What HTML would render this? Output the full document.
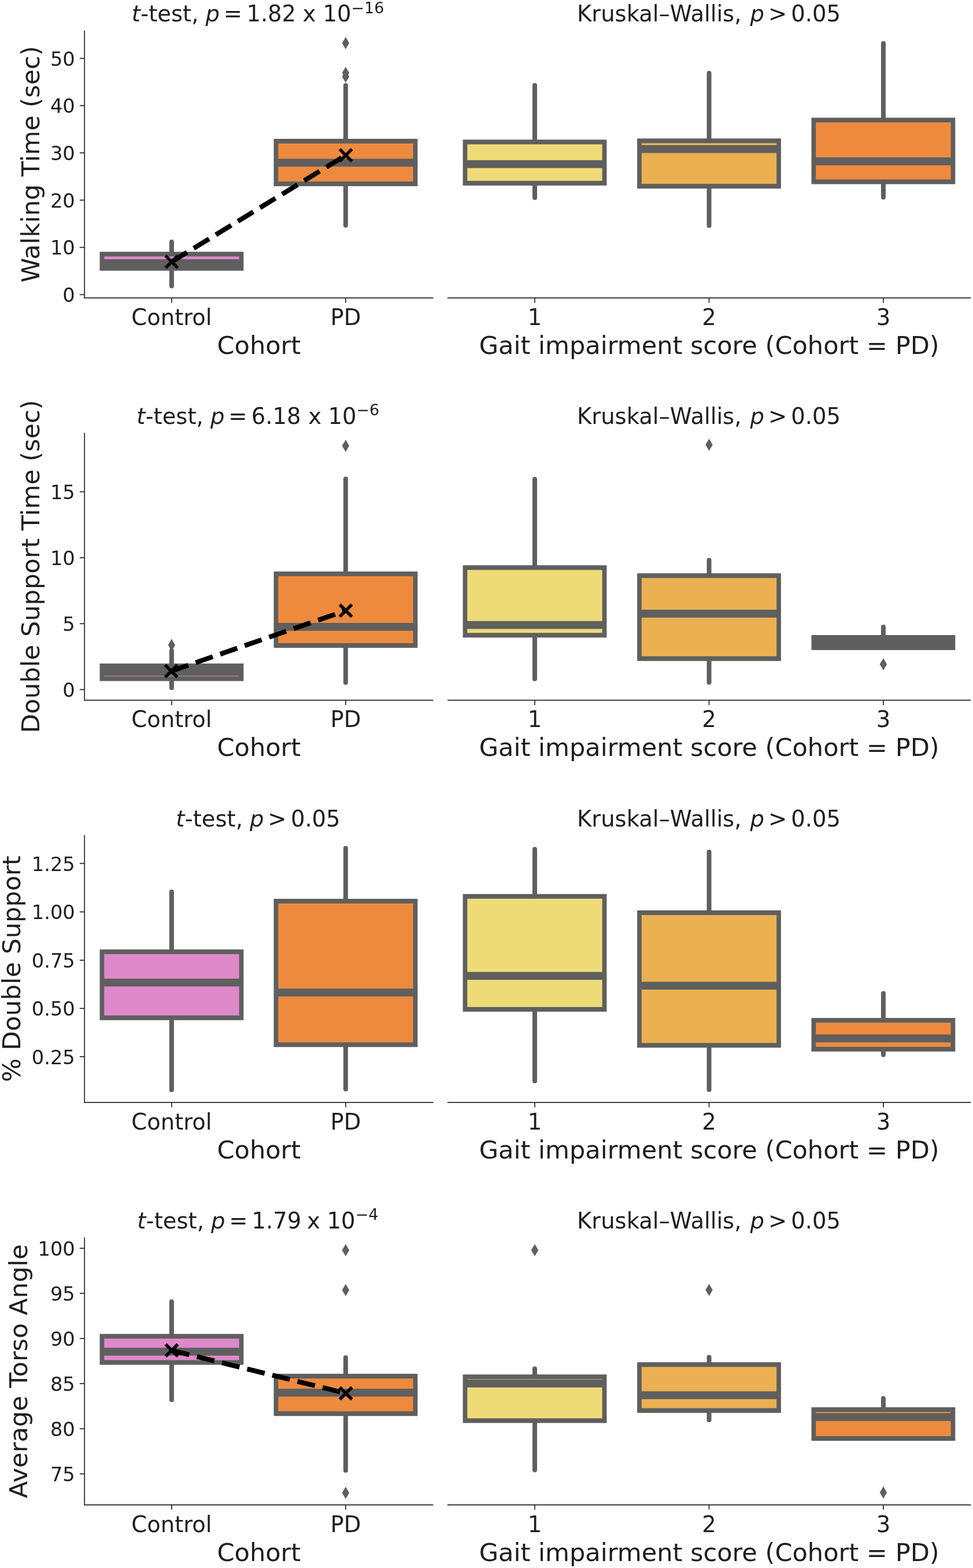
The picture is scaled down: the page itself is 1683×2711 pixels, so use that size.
<!DOCTYPE html>
<html><head><meta charset="utf-8"><title>Boxplots</title><style>
html,body{margin:0;padding:0;background:#fff;}
svg{display:block;}
text{font-family:'DejaVu Sans', 'Liberation Sans', sans-serif;fill:#1e1e1e;}
.yt{font-size:33.7px;text-anchor:end;}
.xt{font-size:38.5px;text-anchor:middle;}
.xl{font-size:43.1px;text-anchor:middle;}
.yl{font-size:43.1px;text-anchor:middle;}
.ti{font-size:38.5px;text-anchor:middle;}
.tl{text-anchor:start;}
.it{font-style:italic;}
.sup{font-size:26.95px;}
.sp{stroke:#262626;stroke-width:1.7;}
.tk{stroke:#262626;stroke-width:1.7;}
.wh{stroke:#5e5f5e;stroke-width:8.0;stroke-linecap:round;}
.xm{stroke:#000;stroke-width:5.5;fill:none;}
.dash{stroke:#000;stroke-width:8.3;stroke-dasharray:31.2 13.6;}
</style></head>
<body><svg width="1683" height="2711" viewBox="0 0 1683 2711">
<rect width="1683" height="2711" fill="#fff"/>
<line x1="146.2" y1="52.8" x2="146.2" y2="515.2" class="sp"/>
<line x1="145.2" y1="515.2" x2="749.5" y2="515.2" class="sp"/>
<line x1="137.9" y1="509.4" x2="146.2" y2="509.4" class="tk"/>
<text x="129.8" y="522.1" class="yt">0</text>
<line x1="137.9" y1="427.7" x2="146.2" y2="427.7" class="tk"/>
<text x="129.8" y="440.4" class="yt">10</text>
<line x1="137.9" y1="346" x2="146.2" y2="346" class="tk"/>
<text x="129.8" y="358.7" class="yt">20</text>
<line x1="137.9" y1="264.3" x2="146.2" y2="264.3" class="tk"/>
<text x="129.8" y="277" class="yt">30</text>
<line x1="137.9" y1="182.6" x2="146.2" y2="182.6" class="tk"/>
<text x="129.8" y="195.3" class="yt">40</text>
<line x1="137.9" y1="100.9" x2="146.2" y2="100.9" class="tk"/>
<text x="129.8" y="113.6" class="yt">50</text>
<line x1="296.9" y1="515.2" x2="296.9" y2="523.5" class="tk"/>
<text x="296.9" y="561.8" class="xt">Control</text>
<line x1="597.9" y1="515.2" x2="597.9" y2="523.5" class="tk"/>
<text x="597.9" y="561.8" class="xt">PD</text>
<text x="447.85" y="611.9" class="xl">Cohort</text>
<text x="67.9" y="284" class="yl" transform="rotate(-90 67.9 284)">Walking Time (sec)</text>
<text y="37.3" class="ti tl"><tspan x="227.84" class="it">t</tspan><tspan x="243.3">-test,</tspan><tspan x="355.5" class="it">p</tspan><tspan x="386.8">=</tspan><tspan x="426.4">1.82</tspan><tspan x="523.5">x</tspan><tspan x="558.5">10</tspan><tspan x="607.5" dy="-14.6" class="sup">−16</tspan></text>
<rect x="172.5" y="435.3" width="248.8" height="32.7" fill="#5e5f5e"/>
<rect x="180.2" y="443.4" width="233.4" height="16.5" fill="#df89cb"/>
<line x1="296.9" y1="438.85" x2="296.9" y2="418.2" class="wh"/>
<line x1="296.9" y1="464.45" x2="296.9" y2="494.4" class="wh"/>
<rect x="173.5" y="448.2" width="246.8" height="13.6" fill="#5e5f5e"/>
<rect x="473.5" y="240" width="248.8" height="81.9" fill="#5e5f5e"/>
<rect x="481.2" y="248.1" width="233.4" height="65.7" fill="#ee8a3e"/>
<line x1="597.9" y1="243.55" x2="597.9" y2="147.7" class="wh"/>
<line x1="597.9" y1="318.35" x2="597.9" y2="389.6" class="wh"/>
<rect x="474.5" y="274.5" width="246.8" height="13.6" fill="#5e5f5e"/>
<path d="M597.9 64l6.2 10.5l-6.2 10.5l-6.2 -10.5z" fill="#5e5f5e"/>
<path d="M597.9 115.5l6.2 10.5l-6.2 10.5l-6.2 -10.5z" fill="#5e5f5e"/>
<path d="M597.9 122.1l6.2 10.5l-6.2 10.5l-6.2 -10.5z" fill="#5e5f5e"/>
<line x1="296.9" y1="452.6" x2="598.1" y2="268.4" class="dash"/>
<path d="M286.4 442.1L307.4 463.1M286.4 463.1L307.4 442.1" class="xm"/>
<path d="M587.6 257.9L608.6 278.9M587.6 278.9L608.6 257.9" class="xm"/>
<line x1="773.9" y1="515.2" x2="1679.4" y2="515.2" class="sp"/>
<line x1="925" y1="515.2" x2="925" y2="523.5" class="tk"/>
<text x="925" y="561.8" class="xt">1</text>
<line x1="1226.5" y1="515.2" x2="1226.5" y2="523.5" class="tk"/>
<text x="1226.5" y="561.8" class="xt">2</text>
<line x1="1527.9" y1="515.2" x2="1527.9" y2="523.5" class="tk"/>
<text x="1527.9" y="561.8" class="xt">3</text>
<text x="1226.65" y="611.9" class="xl">Gait impairment score (Cohort = PD)</text>
<text y="37.3" class="ti tl"><tspan x="998.1">Kruskal–Wallis,</tspan><tspan x="1297.6" class="it">p</tspan><tspan x="1328.9">&gt;</tspan><tspan x="1368.3">0.05</tspan></text>
<rect x="800.6" y="241.4" width="248.8" height="79.4" fill="#5e5f5e"/>
<rect x="808.3" y="249.5" width="233.4" height="63.2" fill="#eedb78"/>
<line x1="925" y1="244.95" x2="925" y2="147.4" class="wh"/>
<line x1="925" y1="317.25" x2="925" y2="341.7" class="wh"/>
<rect x="801.6" y="276.9" width="246.8" height="13.6" fill="#5e5f5e"/>
<rect x="1102.1" y="239.4" width="248.8" height="86.6" fill="#5e5f5e"/>
<rect x="1109.8" y="247.5" width="233.4" height="70.4" fill="#ebb052"/>
<line x1="1226.5" y1="242.95" x2="1226.5" y2="126.6" class="wh"/>
<line x1="1226.5" y1="322.45" x2="1226.5" y2="390.1" class="wh"/>
<rect x="1103.1" y="250.9" width="246.8" height="13.6" fill="#5e5f5e"/>
<rect x="1403.5" y="203.5" width="248.8" height="114.9" fill="#5e5f5e"/>
<rect x="1411.2" y="211.6" width="233.4" height="98.7" fill="#ee8a3e"/>
<line x1="1527.9" y1="207.05" x2="1527.9" y2="75.1" class="wh"/>
<line x1="1527.9" y1="314.85" x2="1527.9" y2="341" class="wh"/>
<rect x="1404.5" y="272.2" width="246.8" height="13.6" fill="#5e5f5e"/>
<line x1="146.2" y1="748.3" x2="146.2" y2="1210.7" class="sp"/>
<line x1="145.2" y1="1210.7" x2="749.5" y2="1210.7" class="sp"/>
<line x1="137.9" y1="1192.3" x2="146.2" y2="1192.3" class="tk"/>
<text x="129.8" y="1205" class="yt">0</text>
<line x1="137.9" y1="1078.3" x2="146.2" y2="1078.3" class="tk"/>
<text x="129.8" y="1091" class="yt">5</text>
<line x1="137.9" y1="964.3" x2="146.2" y2="964.3" class="tk"/>
<text x="129.8" y="977" class="yt">10</text>
<line x1="137.9" y1="850.3" x2="146.2" y2="850.3" class="tk"/>
<text x="129.8" y="863" class="yt">15</text>
<line x1="296.9" y1="1210.7" x2="296.9" y2="1219" class="tk"/>
<text x="296.9" y="1257.3" class="xt">Control</text>
<line x1="597.9" y1="1210.7" x2="597.9" y2="1219" class="tk"/>
<text x="597.9" y="1257.3" class="xt">PD</text>
<text x="447.85" y="1307.4" class="xl">Cohort</text>
<text x="67.9" y="979.5" class="yl" transform="rotate(-90 67.9 979.5)">Double Support Time (sec)</text>
<text y="732.8" class="ti tl"><tspan x="236.24" class="it">t</tspan><tspan x="251.7">-test,</tspan><tspan x="363.9" class="it">p</tspan><tspan x="395.2">=</tspan><tspan x="434.8">6.18</tspan><tspan x="533.3">x</tspan><tspan x="567.5">10</tspan><tspan x="616.5" dy="-14.6" class="sup">−6</tspan></text>
<rect x="172.5" y="1147.2" width="248.8" height="30.3" fill="#5e5f5e"/>
<rect x="180.2" y="1155.3" width="233.4" height="14.1" fill="#df89cb"/>
<line x1="296.9" y1="1150.75" x2="296.9" y2="1125.3" class="wh"/>
<line x1="296.9" y1="1173.95" x2="296.9" y2="1189.1" class="wh"/>
<rect x="173.5" y="1154.8" width="246.8" height="13.6" fill="#5e5f5e"/>
<path d="M296.9 1104.8l6.2 10.5l-6.2 10.5l-6.2 -10.5z" fill="#5e5f5e"/>
<rect x="473.5" y="988.1" width="248.8" height="132" fill="#5e5f5e"/>
<rect x="481.2" y="996.2" width="233.4" height="115.8" fill="#ee8a3e"/>
<line x1="597.9" y1="991.65" x2="597.9" y2="828.1" class="wh"/>
<line x1="597.9" y1="1116.55" x2="597.9" y2="1180.1" class="wh"/>
<rect x="474.5" y="1077" width="246.8" height="13.6" fill="#5e5f5e"/>
<path d="M597.9 760.3l6.2 10.5l-6.2 10.5l-6.2 -10.5z" fill="#5e5f5e"/>
<line x1="296.2" y1="1160.3" x2="598" y2="1055.7" class="dash"/>
<path d="M285.7 1149.8L306.7 1170.8M285.7 1170.8L306.7 1149.8" class="xm"/>
<path d="M587.5 1045.2L608.5 1066.2M587.5 1066.2L608.5 1045.2" class="xm"/>
<line x1="773.9" y1="1210.7" x2="1679.4" y2="1210.7" class="sp"/>
<line x1="925" y1="1210.7" x2="925" y2="1219" class="tk"/>
<text x="925" y="1257.3" class="xt">1</text>
<line x1="1226.5" y1="1210.7" x2="1226.5" y2="1219" class="tk"/>
<text x="1226.5" y="1257.3" class="xt">2</text>
<line x1="1527.9" y1="1210.7" x2="1527.9" y2="1219" class="tk"/>
<text x="1527.9" y="1257.3" class="xt">3</text>
<text x="1226.65" y="1307.4" class="xl">Gait impairment score (Cohort = PD)</text>
<text y="732.8" class="ti tl"><tspan x="998.1">Kruskal–Wallis,</tspan><tspan x="1297.6" class="it">p</tspan><tspan x="1328.9">&gt;</tspan><tspan x="1368.3">0.05</tspan></text>
<rect x="800.6" y="977.3" width="248.8" height="125" fill="#5e5f5e"/>
<rect x="808.3" y="985.4" width="233.4" height="108.8" fill="#eedb78"/>
<line x1="925" y1="980.85" x2="925" y2="828.5" class="wh"/>
<line x1="925" y1="1098.75" x2="925" y2="1173.8" class="wh"/>
<rect x="801.6" y="1073.8" width="246.8" height="13.6" fill="#5e5f5e"/>
<rect x="1102.1" y="991.2" width="248.8" height="151.6" fill="#5e5f5e"/>
<rect x="1109.8" y="999.3" width="233.4" height="135.4" fill="#ebb052"/>
<line x1="1226.5" y1="994.75" x2="1226.5" y2="968.6" class="wh"/>
<line x1="1226.5" y1="1139.25" x2="1226.5" y2="1179.8" class="wh"/>
<rect x="1103.1" y="1054.2" width="246.8" height="13.6" fill="#5e5f5e"/>
<path d="M1226.5 758.5l6.2 10.5l-6.2 10.5l-6.2 -10.5z" fill="#5e5f5e"/>
<rect x="1403.5" y="1098" width="248.8" height="25.9" fill="#5e5f5e"/>
<rect x="1411.2" y="1106.1" width="233.4" height="9.7" fill="#ee8a3e"/>
<line x1="1527.9" y1="1101.55" x2="1527.9" y2="1084" class="wh"/>
<rect x="1404.5" y="1104.2" width="246.8" height="13.6" fill="#5e5f5e"/>
<path d="M1527.9 1137.9l6.2 10.5l-6.2 10.5l-6.2 -10.5z" fill="#5e5f5e"/>
<line x1="146.2" y1="1443.8" x2="146.2" y2="1906.2" class="sp"/>
<line x1="145.2" y1="1906.2" x2="749.5" y2="1906.2" class="sp"/>
<line x1="137.9" y1="1827" x2="146.2" y2="1827" class="tk"/>
<text x="129.8" y="1839.7" class="yt">0.25</text>
<line x1="137.9" y1="1743.5" x2="146.2" y2="1743.5" class="tk"/>
<text x="129.8" y="1756.2" class="yt">0.50</text>
<line x1="137.9" y1="1660.2" x2="146.2" y2="1660.2" class="tk"/>
<text x="129.8" y="1672.9" class="yt">0.75</text>
<line x1="137.9" y1="1576.6" x2="146.2" y2="1576.6" class="tk"/>
<text x="129.8" y="1589.3" class="yt">1.00</text>
<line x1="137.9" y1="1492.8" x2="146.2" y2="1492.8" class="tk"/>
<text x="129.8" y="1505.5" class="yt">1.25</text>
<line x1="296.9" y1="1906.2" x2="296.9" y2="1914.5" class="tk"/>
<text x="296.9" y="1952.8" class="xt">Control</text>
<line x1="597.9" y1="1906.2" x2="597.9" y2="1914.5" class="tk"/>
<text x="597.9" y="1952.8" class="xt">PD</text>
<text x="447.85" y="2002.9" class="xl">Cohort</text>
<text x="35.4" y="1675" class="yl" transform="rotate(-90 35.4 1675)">% Double Support</text>
<text y="1429.3" class="ti tl"><tspan x="304.34" class="it">t</tspan><tspan x="319.8">-test,</tspan><tspan x="432" class="it">p</tspan><tspan x="463.3">&gt;</tspan><tspan x="502.9">0.05</tspan></text>
<rect x="172.5" y="1641.5" width="248.8" height="122.3" fill="#5e5f5e"/>
<rect x="180.2" y="1649.6" width="233.4" height="106.1" fill="#df89cb"/>
<line x1="296.9" y1="1645.05" x2="296.9" y2="1542.1" class="wh"/>
<line x1="296.9" y1="1760.25" x2="296.9" y2="1884.2" class="wh"/>
<rect x="173.5" y="1692" width="246.8" height="13.6" fill="#5e5f5e"/>
<rect x="473.5" y="1554" width="248.8" height="256.3" fill="#5e5f5e"/>
<rect x="481.2" y="1562.1" width="233.4" height="240.1" fill="#ee8a3e"/>
<line x1="597.9" y1="1557.55" x2="597.9" y2="1466.6" class="wh"/>
<line x1="597.9" y1="1806.75" x2="597.9" y2="1883" class="wh"/>
<rect x="474.5" y="1709.2" width="246.8" height="13.6" fill="#5e5f5e"/>
<line x1="773.9" y1="1906.2" x2="1679.4" y2="1906.2" class="sp"/>
<line x1="925" y1="1906.2" x2="925" y2="1914.5" class="tk"/>
<text x="925" y="1952.8" class="xt">1</text>
<line x1="1226.5" y1="1906.2" x2="1226.5" y2="1914.5" class="tk"/>
<text x="1226.5" y="1952.8" class="xt">2</text>
<line x1="1527.9" y1="1906.2" x2="1527.9" y2="1914.5" class="tk"/>
<text x="1527.9" y="1952.8" class="xt">3</text>
<text x="1226.65" y="2002.9" class="xl">Gait impairment score (Cohort = PD)</text>
<text y="1429.3" class="ti tl"><tspan x="998.1">Kruskal–Wallis,</tspan><tspan x="1297.6" class="it">p</tspan><tspan x="1328.9">&gt;</tspan><tspan x="1368.3">0.05</tspan></text>
<rect x="800.6" y="1545.7" width="248.8" height="203.5" fill="#5e5f5e"/>
<rect x="808.3" y="1553.8" width="233.4" height="187.3" fill="#eedb78"/>
<line x1="925" y1="1549.25" x2="925" y2="1468.2" class="wh"/>
<line x1="925" y1="1745.65" x2="925" y2="1869" class="wh"/>
<rect x="801.6" y="1680.5" width="246.8" height="13.6" fill="#5e5f5e"/>
<rect x="1102.1" y="1574" width="248.8" height="237.4" fill="#5e5f5e"/>
<rect x="1109.8" y="1582.1" width="233.4" height="221.2" fill="#ebb052"/>
<line x1="1226.5" y1="1577.55" x2="1226.5" y2="1473" class="wh"/>
<line x1="1226.5" y1="1807.85" x2="1226.5" y2="1884" class="wh"/>
<rect x="1103.1" y="1697.4" width="246.8" height="13.6" fill="#5e5f5e"/>
<rect x="1403.5" y="1760" width="248.8" height="58" fill="#5e5f5e"/>
<rect x="1411.2" y="1768.1" width="233.4" height="41.8" fill="#ee8a3e"/>
<line x1="1527.9" y1="1763.55" x2="1527.9" y2="1717.6" class="wh"/>
<line x1="1527.9" y1="1814.45" x2="1527.9" y2="1823.7" class="wh"/>
<rect x="1404.5" y="1788.6" width="246.8" height="13.6" fill="#5e5f5e"/>
<line x1="146.2" y1="2139.5" x2="146.2" y2="2601.9" class="sp"/>
<line x1="145.2" y1="2601.9" x2="749.5" y2="2601.9" class="sp"/>
<line x1="137.9" y1="2548.3" x2="146.2" y2="2548.3" class="tk"/>
<text x="129.8" y="2561" class="yt">75</text>
<line x1="137.9" y1="2470.3" x2="146.2" y2="2470.3" class="tk"/>
<text x="129.8" y="2483" class="yt">80</text>
<line x1="137.9" y1="2392.2" x2="146.2" y2="2392.2" class="tk"/>
<text x="129.8" y="2404.9" class="yt">85</text>
<line x1="137.9" y1="2314.2" x2="146.2" y2="2314.2" class="tk"/>
<text x="129.8" y="2326.9" class="yt">90</text>
<line x1="137.9" y1="2236.2" x2="146.2" y2="2236.2" class="tk"/>
<text x="129.8" y="2248.9" class="yt">95</text>
<line x1="137.9" y1="2158.2" x2="146.2" y2="2158.2" class="tk"/>
<text x="129.8" y="2170.9" class="yt">100</text>
<line x1="296.9" y1="2601.9" x2="296.9" y2="2610.2" class="tk"/>
<text x="296.9" y="2648.5" class="xt">Control</text>
<line x1="597.9" y1="2601.9" x2="597.9" y2="2610.2" class="tk"/>
<text x="597.9" y="2648.5" class="xt">PD</text>
<text x="447.85" y="2698.6" class="xl">Cohort</text>
<text x="46.8" y="2370.7" class="yl" transform="rotate(-90 46.8 2370.7)">Average Torso Angle</text>
<text y="2124" class="ti tl"><tspan x="237.34" class="it">t</tspan><tspan x="252.8">-test,</tspan><tspan x="365" class="it">p</tspan><tspan x="396.3">=</tspan><tspan x="435.6">1.79</tspan><tspan x="531">x</tspan><tspan x="565.4">10</tspan><tspan x="614.7" dy="-14.6" class="sup">−4</tspan></text>
<rect x="172.5" y="2306.3" width="248.8" height="53.4" fill="#5e5f5e"/>
<rect x="180.2" y="2314.4" width="233.4" height="37.2" fill="#df89cb"/>
<line x1="296.9" y1="2309.85" x2="296.9" y2="2250.4" class="wh"/>
<line x1="296.9" y1="2356.15" x2="296.9" y2="2420" class="wh"/>
<rect x="173.5" y="2330.2" width="246.8" height="13.6" fill="#5e5f5e"/>
<rect x="473.5" y="2375.2" width="248.8" height="73" fill="#5e5f5e"/>
<rect x="481.2" y="2383.3" width="233.4" height="56.8" fill="#ee8a3e"/>
<line x1="597.9" y1="2378.75" x2="597.9" y2="2347.2" class="wh"/>
<line x1="597.9" y1="2444.65" x2="597.9" y2="2542.2" class="wh"/>
<rect x="474.5" y="2401" width="246.8" height="13.6" fill="#5e5f5e"/>
<path d="M597.9 2151.1l6.2 10.5l-6.2 10.5l-6.2 -10.5z" fill="#5e5f5e"/>
<path d="M597.9 2220l6.2 10.5l-6.2 10.5l-6.2 -10.5z" fill="#5e5f5e"/>
<path d="M597.9 2570.5l6.2 10.5l-6.2 10.5l-6.2 -10.5z" fill="#5e5f5e"/>
<line x1="297" y1="2334.7" x2="598.2" y2="2409" class="dash"/>
<path d="M286.5 2324.2L307.5 2345.2M286.5 2345.2L307.5 2324.2" class="xm"/>
<path d="M587.7 2398.5L608.7 2419.5M587.7 2419.5L608.7 2398.5" class="xm"/>
<line x1="773.9" y1="2601.9" x2="1679.4" y2="2601.9" class="sp"/>
<line x1="925" y1="2601.9" x2="925" y2="2610.2" class="tk"/>
<text x="925" y="2648.5" class="xt">1</text>
<line x1="1226.5" y1="2601.9" x2="1226.5" y2="2610.2" class="tk"/>
<text x="1226.5" y="2648.5" class="xt">2</text>
<line x1="1527.9" y1="2601.9" x2="1527.9" y2="2610.2" class="tk"/>
<text x="1527.9" y="2648.5" class="xt">3</text>
<text x="1226.65" y="2698.6" class="xl">Gait impairment score (Cohort = PD)</text>
<text y="2124" class="ti tl"><tspan x="998.1">Kruskal–Wallis,</tspan><tspan x="1297.6" class="it">p</tspan><tspan x="1328.9">&gt;</tspan><tspan x="1368.3">0.05</tspan></text>
<rect x="800.6" y="2376.4" width="248.8" height="83.9" fill="#5e5f5e"/>
<rect x="808.3" y="2384.5" width="233.4" height="67.7" fill="#eedb78"/>
<line x1="925" y1="2379.95" x2="925" y2="2366.5" class="wh"/>
<line x1="925" y1="2456.75" x2="925" y2="2541.5" class="wh"/>
<rect x="801.6" y="2385.2" width="246.8" height="13.6" fill="#5e5f5e"/>
<path d="M925 2150.9l6.2 10.5l-6.2 10.5l-6.2 -10.5z" fill="#5e5f5e"/>
<rect x="1102.1" y="2355.2" width="248.8" height="87.6" fill="#5e5f5e"/>
<rect x="1109.8" y="2363.3" width="233.4" height="71.4" fill="#ebb052"/>
<line x1="1226.5" y1="2358.75" x2="1226.5" y2="2346.6" class="wh"/>
<line x1="1226.5" y1="2439.25" x2="1226.5" y2="2455.1" class="wh"/>
<rect x="1103.1" y="2405.5" width="246.8" height="13.6" fill="#5e5f5e"/>
<path d="M1226.5 2219.7l6.2 10.5l-6.2 10.5l-6.2 -10.5z" fill="#5e5f5e"/>
<rect x="1403.5" y="2433.1" width="248.8" height="58" fill="#5e5f5e"/>
<rect x="1411.2" y="2441.2" width="233.4" height="41.8" fill="#ee8a3e"/>
<line x1="1527.9" y1="2436.65" x2="1527.9" y2="2417.8" class="wh"/>
<rect x="1404.5" y="2443.2" width="246.8" height="13.6" fill="#5e5f5e"/>
<path d="M1527.9 2570l6.2 10.5l-6.2 10.5l-6.2 -10.5z" fill="#5e5f5e"/>
</svg></body></html>
